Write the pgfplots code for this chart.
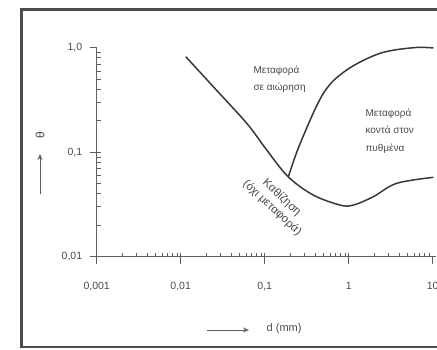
\documentclass[border=0pt]{standalone}
\usepackage{fontspec}
\setmainfont{Liberation Sans}
\usepackage{pgfplots}
\pgfplotsset{compat=1.18}
\usetikzlibrary{arrows.meta}
\definecolor{ink}{HTML}{383838}
\definecolor{txt}{HTML}{4A4A4A}
\definecolor{axc}{HTML}{5E5E5E}
\begin{document}
\begin{tikzpicture}[x=1pt,y=1pt]
\useasboundingbox (0,0) rectangle (437,349);
\begin{scope}
\clip (0,0) rectangle (437,349);
\draw[line width=2.4pt, color=black!70] (21.5,2) rectangle (470,339.5);
\begin{axis}[
  at={(96.7pt,92.3pt)}, anchor=south west,
  scale only axis, width=339.5pt, height=209pt,
  xmode=log, ymode=log,
  xmin=0.001, xmax=11, ymin=0.01, ymax=1,
  axis lines=left,
  axis line style={-, axc, line width=0.9pt},
  clip=false,
  xtick={0.001,0.01,0.1,1,10},
  xticklabels={{0,001},{0,01},{0,1},1,10},
  ytick={0.01,0.1,1},
  yticklabels={{0,01},{0,1},{1,0}},
  tick align=outside,
  major tick length=7pt, minor tick length=-4pt,
  tick style={axc, line width=0.7pt},
  xticklabel style={font=\fontsize{10.5}{12}\selectfont, text=txt, yshift=-15pt},
  yticklabel style={font=\fontsize{10.5}{12}\selectfont, text=txt, xshift=-4pt},
  xlabel={d (mm)},
  xlabel style={at={(rel axis cs:0.552,-0.346)}, anchor=center, font=\fontsize{11}{13}\selectfont, text=txt},
  ylabel={θ},
  ylabel style={at={(rel axis cs:-0.167,0.58)}, anchor=center, rotate=0, font=\fontsize{12}{13}\selectfont, text=txt},
]
\addplot[ink, line width=1.5pt, smooth, tension=0.55] coordinates {
 (0.0115,0.82) (0.0244,0.424) (0.0611,0.189) (0.1056,0.105) (0.191,0.058)
 (0.379,0.0389) (0.788,0.0312) (1.135,0.0312) (1.96,0.0375) (3.73,0.0504) (10.2,0.0575)
};
\addplot[ink, line width=1.5pt, smooth, tension=0.55] coordinates {
 (0.191,0.058) (0.263,0.12) (0.499,0.366) (0.946,0.612) (2.36,0.884) (5.87,1.0) (10.2,0.995)
};
\node[anchor=west, align=left, text=txt, font=\fontsize{10}{17.5}\selectfont] at (axis cs:0.0668,0.50) {Μεταφορά\\σε αιώρηση};
\node[anchor=west, align=left, text=txt, font=\fontsize{10}{17.5}\selectfont] at (axis cs:1.44,0.16) {Μεταφορά\\κοντά στον\\πυθμένα};
\node[rotate=-43, align=center, text=txt, inner sep=0pt, font=\fontsize{11.5}{14}\selectfont] at (axis cs:0.14,0.0328) {Καθίζηση\\(όχι μεταφορά)};
\end{axis}
\draw[-{Stealth[length=6pt,width=5pt]}, axc, line width=1pt] (40,155) -- (40,195);
\draw[-{Stealth[length=6pt,width=5pt]}, axc, line width=1pt] (207,19) -- (249,19);
\end{scope}
\end{tikzpicture}
\end{document}
